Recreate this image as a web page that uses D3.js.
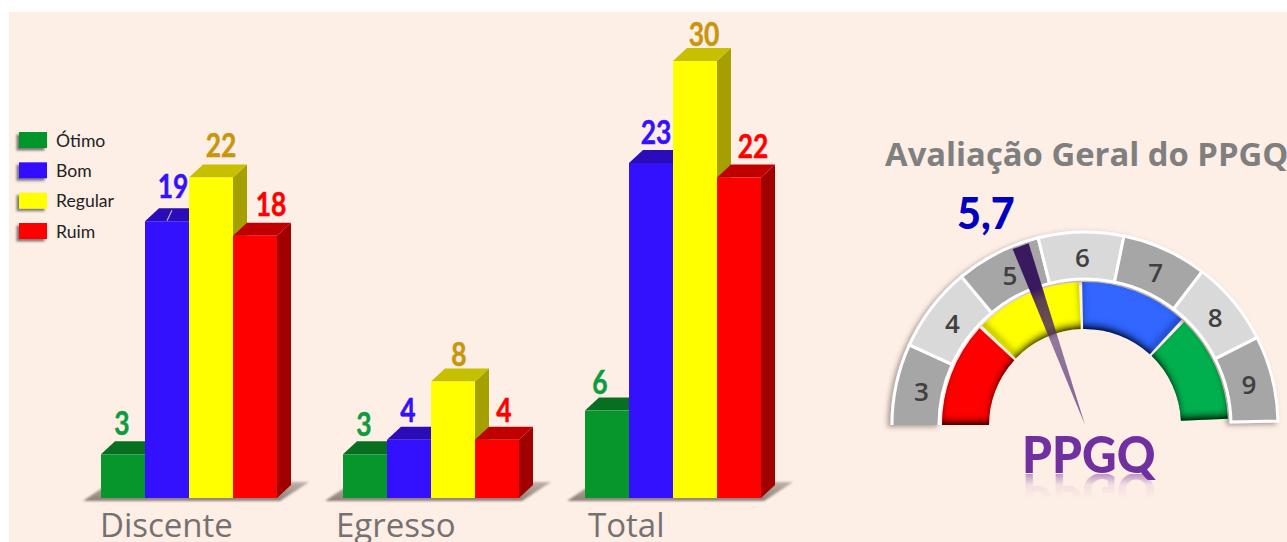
<!DOCTYPE html>
<html><head><meta charset="utf-8">
<script src="https://cdn.jsdelivr.net/npm/d3@7"></script>
<style>html,body{margin:0;padding:0;background:#fff;overflow:hidden}svg{display:block}</style>
</head><body><svg id="c" width="1287" height="542"></svg>
<script>
const groups = ["Discente","Egresso","Total"];
const seriesNames = ["Ótimo","Bom","Regular","Ruim"];
const otimo = [3,3,6];
const bom = [19,4,23];
const regular = [22,8,30];
const ruim = [18,4,22];
const gaugeLabels = [3,4,5,6,7,8,9];
const gaugeBands = ["Ruim","Regular","Bom","Ótimo"];
const gaugeTitle = "Avaliação Geral do PPGQ";
const gaugeValueText = "5,7";
const gaugeName = "PPGQ";
const needleReading = 5.3;

const seriesValues = [otimo,bom,regular,ruim];
const front = ["#06962c","#3311ff","#ffff00","#ff0000"];
const topc  = ["#067020","#2a0cb8","#c6c000","#c00000"];
const sidec = ["#05561a","#200a90","#a5a000","#a00000"];
const labelc= ["#0b9c3e","#3311ff","#c8960a","#ff0000"];
const bandc = ["#ff0000","#ffff00","#3366ff","#00b050"];

const svg = d3.select("#c");
const defs = svg.append("defs");
svg.append("rect").attr("x",9).attr("y",12).attr("width",1278).attr("height",530).attr("fill","#fdeee6");

// filters
const soft = defs.append("filter").attr("id","soft").attr("x","-10%").attr("y","-50%").attr("width","120%").attr("height","200%");
soft.append("feGaussianBlur").attr("stdDeviation",1.1);
const sw = defs.append("filter").attr("id","sw").attr("x","-30%").attr("y","-30%").attr("width","160%").attr("height","170%");
sw.append("feDropShadow").attr("dx",-2.5).attr("dy",2.5).attr("stdDeviation",1.3).attr("flood-color","#555").attr("flood-opacity",.75);
const rs = defs.append("filter").attr("id","ringShadow").attr("x","-5%").attr("y","-5%").attr("width","110%").attr("height","110%");
rs.append("feDropShadow").attr("dx",-3).attr("dy",2).attr("stdDeviation",2.5).attr("flood-color","#6a5a50").attr("flood-opacity",.55);
const ins = defs.append("filter").attr("id","inner").attr("x","-5%").attr("y","-5%").attr("width","110%").attr("height","110%");
ins.append("feFlood").attr("flood-color","#000").attr("result","f");
ins.append("feComposite").attr("in","f").attr("in2","SourceAlpha").attr("operator","out").attr("result","inv");
ins.append("feOffset").attr("in","inv").attr("dy",-5).attr("result","o");
ins.append("feGaussianBlur").attr("in","o").attr("stdDeviation",3).attr("result","b");
ins.append("feComposite").attr("in","b").attr("in2","SourceAlpha").attr("operator","in").attr("result","s");
const im = ins.append("feMerge");
im.append("feMergeNode").attr("in","SourceGraphic");
im.append("feMergeNode").attr("in","s");

// chart scales
const baseY = 498, depX = 14, depY = 13;
const y = d3.scaleLinear().domain([0,30]).range([baseY,61]);
const x0 = d3.scaleBand().domain(groups).range([101,761]).paddingInner(66/242);
const x1 = d3.scaleBand().domain(seriesNames).range([0,x0.bandwidth()]);

// floor shadows
const floorGrad = defs.append("linearGradient").attr("id","floor").attr("x1",0).attr("y1",1).attr("x2",0).attr("y2",0);
floorGrad.append("stop").attr("offset",0).attr("stop-color","#8c8078");
floorGrad.append("stop").attr("offset",1).attr("stop-color","#8c8078").attr("stop-opacity",.55);
const poly = d3.line();
groups.forEach(g=>{
  const l=x0(g), r=l+x0.bandwidth();
  svg.append("path").attr("filter","url(#soft)").attr("fill","url(#floor)")
    .attr("d",poly([[l-18,baseY+3],[r+3,baseY+3],[r+32,baseY-16],[l+10,baseY-16]])+"Z");
});

// bars
const labelDX = {Discente:[-1,6,10,16],Egresso:[-1,-1,6,7],Total:[-7,5,9,14]};
const labelDY = {Discente:[0,-4,-2,-1],Egresso:[1,1,4,1],Total:[2,0,4,-1]};
seriesNames.forEach((s,i)=>{
  const gg = svg.append("g");
  gg.selectAll("g").data(groups.map((g,j)=>({g,v:seriesValues[i][j]}))).join("g").each(function(d){
    const sel=d3.select(this), l=x0(d.g)+x1(s), w=x1.bandwidth(), r=l+w, t=y(d.v);
    sel.append("path").attr("fill",sidec[i]).attr("d",poly([[r,t],[r+depX,t-depY],[r+depX,baseY-depY],[r,baseY]])+"Z");
    sel.append("path").attr("fill",topc[i]).attr("d",poly([[l,t],[l+depX,t-depY],[r+depX,t-depY],[r,t]])+"Z");
    sel.append("rect").attr("x",l).attr("y",t).attr("width",w).attr("height",baseY-t).attr("fill",front[i]);
  });
});
// value labels above the bars so no later bar hides them
const numF = "Lato, 'Open Sans', sans-serif";
seriesNames.forEach((s,i)=>{
  groups.forEach((g,j)=>{
    const v=seriesValues[i][j];
    const cx=x0(g)+x1(s)+x1.bandwidth()/2+labelDX[g][i];
    const ty=y(v)-depY-6+labelDY[g][i];
    svg.append("text").attr("transform",`translate(${cx},${ty}) scale(.8,1)`)
      .attr("text-anchor","middle").attr("font-family",numF).attr("font-weight",700)
      .attr("font-size",33).attr("fill",labelc[i]).attr("stroke",labelc[i]).attr("stroke-width",.5).text(v);
  });
});
// leader tick at the 19 label
{
  const lx=x0("Discente")+x1("Bom")+x1.bandwidth()/2, ly=y(bom[0]);
  svg.append("path").attr("d",poly([[lx,ly-.5],[lx+5,ly-11]])).attr("stroke","#b8b4c8").attr("stroke-width",1.2).attr("fill","none");
}

// category axis
const ax = svg.append("g").attr("transform",`translate(0,${baseY})`)
  .call(d3.axisBottom(x0).tickSize(0));
ax.select(".domain").remove();
const catOffset = {Discente:-89,Egresso:-95,Total:-85};
ax.selectAll("text").attr("text-anchor","start").attr("dy",0).attr("y",39)
  .attr("x",d=>catOffset[d]).attr("font-family","'Open Sans',sans-serif").attr("font-size",33)
  .attr("fill","#767171");

// legend
const leg = svg.append("g");
const legRowY = d3.scalePoint().domain(seriesNames).range([140,231]);
seriesNames.forEach((s,i)=>{
  const yy=legRowY(s);
  leg.append("rect").attr("x",19).attr("y",yy-8).attr("width",28).attr("height",16).attr("fill",front[i]).attr("filter","url(#sw)");
  leg.append("text").attr("x",56).attr("y",yy+6.5).attr("font-family",numF).attr("font-size",17.6).attr("fill","#222").text(s);
});

// gauge
const cx=1085, cy=425, rotOuter=-1.2, rotInner=-1.8;
const clip = defs.append("clipPath").attr("id","gclip");
clip.append("rect").attr("x",800).attr("y",150).attr("width",487).attr("height",cy-150);
const ang = d3.scaleLinear().domain([2.5,9.5]).range([-Math.PI/2,Math.PI/2]);
const deg=rotOuter*Math.PI/180;
const outerArc=d3.arc().innerRadius(146).outerRadius(193);
const bandAng=d3.scaleLinear().domain([0,4]).range([-Math.PI/2,Math.PI/2]);
const innerArc=d3.arc().innerRadius(96).outerRadius(143);

const gRing = svg.append("g").attr("filter","url(#ringShadow)").append("g").attr("clip-path","url(#gclip)");
gaugeLabels.forEach((n,i)=>{
  gRing.append("path").attr("transform",`translate(${cx},${cy}) rotate(${rotOuter})`)
    .attr("d",outerArc({startAngle:ang(n-.5),endAngle:ang(n+.5)}))
    .attr("fill",i%2?"#d9d9d9":"#a6a6a6").attr("stroke","#fff").attr("stroke-width",3).attr("stroke-linejoin","miter");
});
const gBand = svg.append("g").attr("filter","url(#inner)").append("g").attr("clip-path","url(#gclip)");
gaugeBands.forEach((b,i)=>{
  gBand.append("path").attr("transform",`translate(${cx},${cy}) rotate(${rotInner})`)
    .attr("d",innerArc({startAngle:bandAng(i)+.012,endAngle:bandAng(i+1)-.012}))
    .attr("fill",bandc[i]);
});
// gauge numbers
gaugeLabels.forEach(n=>{
  const a=ang(n)+deg, r=168;
  svg.append("text").attr("x",cx+r*Math.sin(a)+1).attr("y",cy-r*Math.cos(a)+9.5)
    .attr("text-anchor","middle").attr("font-family","'Open Sans',sans-serif").attr("font-weight",600)
    .attr("font-size",26).attr("fill","#404040").text(n);
});
// needle
const na=ang(needleReading)-1.8*Math.PI/180, nr=190, hw=8.5;
const tip=[cx,cy], ex=cx+nr*Math.sin(na), ey=cy-nr*Math.cos(na);
const nx=Math.cos(na)*hw, ny=Math.sin(na)*hw;
const ng=defs.append("linearGradient").attr("id","needle").attr("gradientUnits","userSpaceOnUse")
  .attr("x1",ex).attr("y1",ey).attr("x2",cx).attr("y2",cy);
[[0,"#3a1a5e",1],[.24,"#3a1a5e",1],[.3,"#3f2060",.85],[.48,"#4a2a62",.8],[.52,"#6a4a80",.72],[1,"#5a2e80",.75]]
  .forEach(s=>ng.append("stop").attr("offset",s[0]).attr("stop-color",s[1]).attr("stop-opacity",s[2]));
svg.append("path").attr("fill","url(#needle)")
  .attr("d",poly([tip,[ex+nx,ey+ny],[ex-nx,ey-ny]])+"Z");

// gauge texts
svg.append("text").attr("x",885).attr("y",166).attr("font-family","'Open Sans',sans-serif").attr("font-weight",700)
  .attr("font-size",32.8).attr("fill","#7f7f7f").text(gaugeTitle);
svg.append("text").attr("transform","translate(957,229) scale(.96,1)").attr("font-family",numF).attr("font-weight",900)
  .attr("font-size",43).attr("fill","#0000c0").text(gaugeValueText);
const nameF="Lato, 'Open Sans', sans-serif";
svg.append("text").attr("transform","translate(1022,473) scale(.92,1)").attr("font-family",nameF).attr("font-weight",900)
  .attr("font-size",52).attr("fill","#7030a0").text(gaugeName);
const rg=defs.append("linearGradient").attr("id","refl").attr("gradientUnits","userSpaceOnUse")
  .attr("x1",0).attr("y1",0).attr("x2",0).attr("y2",-26);
rg.append("stop").attr("offset",0).attr("stop-color","#7030a0").attr("stop-opacity",.5);
rg.append("stop").attr("offset",.45).attr("stop-color","#7030a0").attr("stop-opacity",.08);
rg.append("stop").attr("offset",1).attr("stop-color","#7030a0").attr("stop-opacity",0);
const reflClip=defs.append("clipPath").attr("id","rc");
reflClip.append("rect").attr("x",1000).attr("y",474).attr("width",200).attr("height",30);
svg.append("g").attr("clip-path","url(#rc)").append("text").attr("aria-hidden","true")
  .attr("transform","translate(1022,473) scale(.92,-1)").attr("font-family",nameF).attr("font-weight",900)
  .attr("font-size",52).attr("fill","url(#refl)").text(gaugeName);
</script></body></html>
